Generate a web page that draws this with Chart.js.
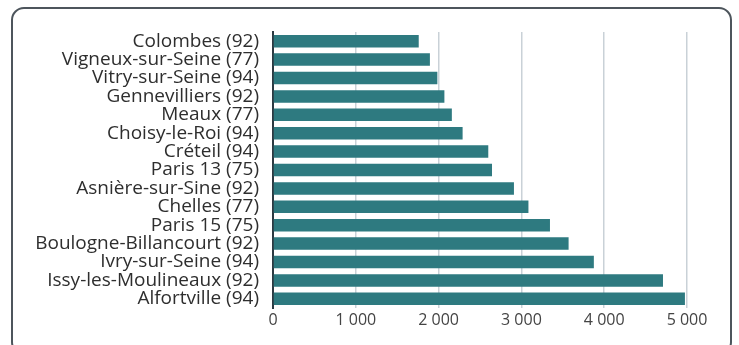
<!DOCTYPE html>
<html>
<head>
<meta charset="utf-8">
<script src="https://cdn.jsdelivr.net/npm/chart.js@4/dist/chart.umd.min.js"></script>
<style>
  html, body { margin: 0; padding: 0; background: #fff; }
  #wrap { position: relative; width: 739px; height: 345px; overflow: hidden; }
  #frame { position: absolute; left: 11px; top: 7px; width: 721px; height: 348px;
           border: 2px solid #4d555c; border-radius: 13px; box-sizing: border-box; }
  #c { position: absolute; left: 0; top: 0; }
</style>
</head>
<body>
<div id="wrap">
  <div id="frame"></div>
  <canvas id="c" width="739" height="345"></canvas>
</div>
<script>
const categories = [
  "Colombes (92)",
  "Vigneux-sur-Seine (77)",
  "Vitry-sur-Seine (94)",
  "Gennevilliers (92)",
  "Meaux (77)",
  "Choisy-le-Roi (94)",
  "Créteil (94)",
  "Paris 13 (75)",
  "Asnière-sur-Sine (92)",
  "Chelles (77)",
  "Paris 15 (75)",
  "Boulogne-Billancourt (92)",
  "Ivry-sur-Seine (94)",
  "Issy-les-Moulineaux (92)",
  "Alfortville (94)"
];
const values = [1760, 1895, 1985, 2070, 2160, 2290, 2600, 2645, 2910, 3085, 3345, 3570, 3875, 4710, 4975];
const tickValues = [0, 1000, 2000, 3000, 4000, 5000];
const tickLabels = ["0", "1 000", "2 000", "3 000", "4 000", "5 000"];

const FONT = "'Open Sans', 'Noto Sans', sans-serif";

new Chart(document.getElementById('c'), {
  type: 'bar',
  data: {
    labels: categories,
    datasets: [{
      data: values,
      backgroundColor: '#2e7a80',
      borderWidth: 0,
      categoryPercentage: 1,
      barPercentage: 0.68
    }]
  },
  options: {
    indexAxis: 'y',
    responsive: false,
    animation: false,
    layout: { padding: { left: 0, right: 52, top: 32, bottom: 0 } },
    plugins: { legend: { display: false }, tooltip: { enabled: false } },
    scales: {
      x: {
        min: 0, max: 5000,
        afterBuildTicks: (s) => { s.ticks = tickValues.map(v => ({ value: v })); },
        afterFit: (s) => { s.height = 37; },
        grid: { display: true, drawTicks: false, color: '#c9d1d7', lineWidth: 1.5 },
        border: { display: false },
        ticks: {
          padding: 3,
          color: '#444444',
          font: { family: FONT, size: 16 },
          callback: (v, i) => tickLabels[i]
        }
      },
      y: {
        afterFit: (s) => { s.width = 273; },
        grid: { display: false, drawTicks: false },
        border: { display: true, color: '#2c3a42', width: 2 },
        ticks: {
          padding: 14,
          color: '#2e2e2e',
          font: { family: FONT, size: 19 },
          autoSkip: false
        }
      }
    }
  }
});
</script>
</body>
</html>
